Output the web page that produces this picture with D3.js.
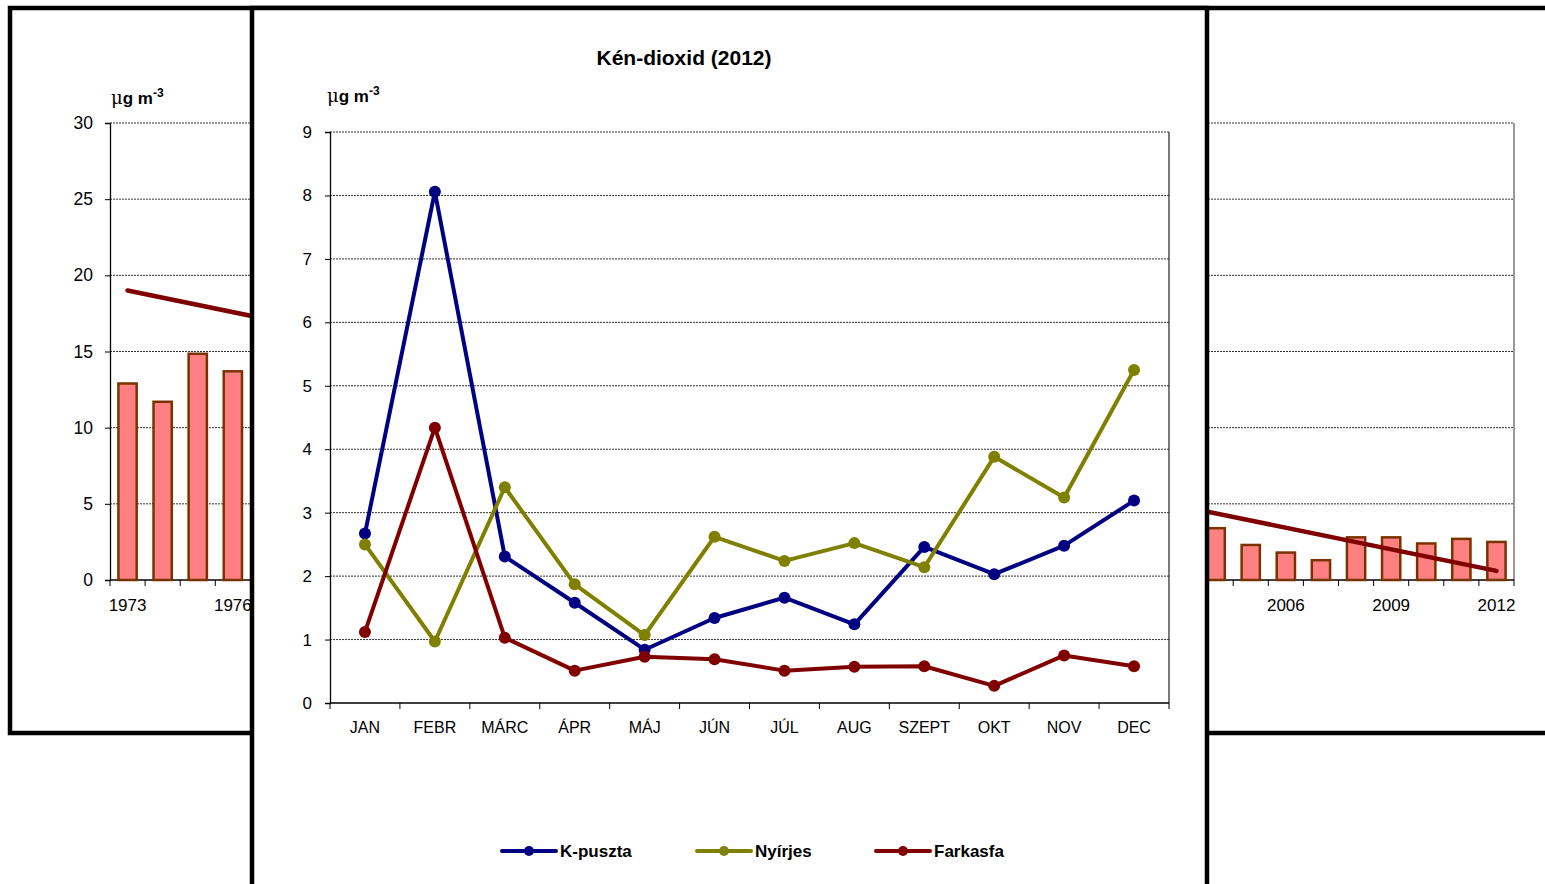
<!DOCTYPE html>
<html>
<head>
<meta charset="utf-8">
<script src="https://cdn.jsdelivr.net/npm/d3@7"></script>
<style>
  html, body { margin: 0; padding: 0; background: #fff; }
  svg { display: block; font-family: "Liberation Sans", Arial, sans-serif; }
</style>
</head>
<body>
<svg id="chart" width="1545" height="884"></svg>
<script>
// ---------- Data: background long-term chart (annual means) ----------
const years = d3.range(1973, 2013);             // categories 1973..2012
const yearLabels = [1973,1976,1979,1982,1985,1988,1991,1994,1997,2000,2003,2006,2009,2012];
// only years visible in the picture; others are hidden under the front panel
const annualYears  = [1973, 1974, 1975, 1976, 2004, 2005, 2006, 2007, 2008, 2009, 2010, 2011, 2012];
const annualValues = [12.9, 11.7, 14.85, 13.7, 3.4, 2.3, 1.8, 1.3, 2.8, 2.8, 2.4, 2.7, 2.5];
const trendYears  = [1973, 2012];
const trendValues = [19.0, 0.6];
const backYTicks = [0, 5, 10, 15, 20, 25, 30];

// ---------- Data: front chart (monthly 2012) ----------
const months = ["JAN","FEBR","MÁRC","ÁPR","MÁJ","JÚN","JÚL","AUG","SZEPT","OKT","NOV","DEC"];
const kpuszta  = [2.67, 8.06, 2.31, 1.58, 0.84, 1.34, 1.66, 1.24, 2.46, 2.03, 2.48, 3.19];
const nyirjes  = [2.50, 0.97, 3.40, 1.87, 1.07, 2.62, 2.24, 2.52, 2.14, 3.88, 3.24, 5.25];
const farkasfa = [1.12, 4.34, 1.03, 0.51, 0.73, 0.69, 0.51, 0.57, 0.58, 0.27, 0.75, 0.58];
const seriesNames = ["K-puszta", "Nyírjes", "Farkasfa"];
const seriesColors = ["#000080", "#808000", "#800000"];
const frontYTicks = [0,1,2,3,4,5,6,7,8,9];
const title = "Kén-dioxid (2012)";

const svg = d3.select("#chart");
svg.append("rect").attr("width",1545).attr("height",884).attr("fill","#fff");

function unitLabel(g, x, y) {
  const t = g.append("text").attr("x", x).attr("y", y)
    .attr("font-size", 17).attr("font-weight", "bold").attr("fill", "#000");
  t.append("tspan").attr("font-weight","normal").attr("font-family","'DejaVu Serif', serif").attr("font-size",18).text("μ");
  t.append("tspan").text("g m");
  t.append("tspan").attr("dy", -7).attr("font-size", 12).text("-3");
}

// ================= BACKGROUND CHART =================
const back = svg.append("g");
back.append("rect").attr("x", 10).attr("y", 8).attr("width", 1600).attr("height", 725)
  .attr("fill", "#fff").attr("stroke", "#000").attr("stroke-width", 4.5);

const bx = d3.scaleBand().domain(years).range([110, 1514]).paddingInner(0.48).paddingOuter(0.24);
const by = d3.scaleLinear().domain([0, 30]).range([580, 123]);

back.append("g").selectAll("line").data(backYTicks.filter(d => d > 0)).join("line")
  .attr("x1", 110).attr("x2", 1514).attr("y1", d => by(d)).attr("y2", d => by(d))
  .attr("stroke", "#333").attr("stroke-width", 1).attr("stroke-dasharray", "2,1");
back.append("line").attr("x1",1514).attr("x2",1514).attr("y1",by(30)).attr("y2",by(0))
  .attr("stroke","#555").attr("stroke-width",1.2);

const byAxis = back.append("g").attr("transform", "translate(110,0)")
  .call(d3.axisLeft(by).tickValues(backYTicks).tickSize(5).tickPadding(12));
byAxis.select(".domain").attr("stroke","#000").attr("stroke-width",1.3);
byAxis.selectAll(".tick line").attr("stroke","#000");
byAxis.selectAll("text").attr("font-size", 17.5).attr("fill","#000").attr("font-family","'Liberation Sans', Arial, sans-serif");

back.append("line").attr("x1",110).attr("x2",1514).attr("y1",by(0)).attr("y2",by(0))
  .attr("stroke","#000").attr("stroke-width",1.3);
const bStep = bx.step();
back.append("g").selectAll("line").data(years.concat(["end"])).join("line")
  .attr("x1", d => d === "end" ? 1514 : bx(d) + bx.bandwidth()/2 - bStep/2)
  .attr("x2", d => d === "end" ? 1514 : bx(d) + bx.bandwidth()/2 - bStep/2)
  .attr("y1", by(0)).attr("y2", by(0) + 6).attr("stroke","#000").attr("stroke-width",1);
back.append("g").selectAll("text").data(yearLabels).join("text")
  .attr("x", d => bx(d) + bx.bandwidth()/2).attr("y", 611)
  .attr("text-anchor","middle").attr("font-size",17).attr("fill","#000").text(d => d);

back.append("g").selectAll("rect").data(annualYears.map((y,i) => ({y, v: annualValues[i]}))).join("rect")
  .attr("x", d => bx(d.y)).attr("width", bx.bandwidth())
  .attr("y", d => by(d.v)).attr("height", d => by(0) - by(d.v))
  .attr("fill", "#FF8080").attr("stroke", "#7A3300").attr("stroke-width", 2.5);

back.append("path")
  .datum(trendYears.map((y,i) => ({y, v: trendValues[i]})))
  .attr("d", d3.line().x(d => bx(d.y) + bx.bandwidth()/2).y(d => by(d.v)))
  .attr("fill","none").attr("stroke","#800000").attr("stroke-width",4.5).attr("stroke-linecap","round");

unitLabel(back, 111, 104);

// ================= FRONT CHART =================
const front = svg.append("g");
front.append("rect").attr("x", 252).attr("y", 8).attr("width", 955).attr("height", 920)
  .attr("fill", "#fff").attr("stroke", "#000").attr("stroke-width", 4.5);

front.append("text").attr("x", 684).attr("y", 65).attr("text-anchor","middle")
  .attr("font-size", 21).attr("font-weight","bold").attr("fill","#000").text(title);
unitLabel(front, 327, 102);

const fx = d3.scaleBand().domain(months).range([330, 1169]);
const fy = d3.scaleLinear().domain([0, 9]).range([703, 132]);
const cx = m => fx(m) + fx.bandwidth()/2;

front.append("g").selectAll("line").data(frontYTicks.filter(d => d > 0)).join("line")
  .attr("x1", 330).attr("x2", 1169).attr("y1", d => fy(d)).attr("y2", d => fy(d))
  .attr("stroke", "#333").attr("stroke-width", 1).attr("stroke-dasharray", "2,1");
front.append("line").attr("x1",1169).attr("x2",1169).attr("y1",fy(9)).attr("y2",fy(0))
  .attr("stroke","#222").attr("stroke-width",1.2);

const fyAxis = front.append("g").attr("transform","translate(330,0)")
  .call(d3.axisLeft(fy).tickValues(frontYTicks).tickSize(5).tickPadding(13));
fyAxis.select(".domain").attr("stroke","#000").attr("stroke-width",1.3);
fyAxis.selectAll(".tick line").attr("stroke","#000");
fyAxis.selectAll("text").attr("font-size",17).attr("fill","#000").attr("font-family","'Liberation Sans', Arial, sans-serif");

front.append("line").attr("x1",330).attr("x2",1169).attr("y1",fy(0)).attr("y2",fy(0))
  .attr("stroke","#000").attr("stroke-width",1.3);
front.append("g").selectAll("line").data(months.concat(["end"])).join("line")
  .attr("x1", d => d === "end" ? 1169 : fx(d)).attr("x2", d => d === "end" ? 1169 : fx(d))
  .attr("y1", fy(0)).attr("y2", fy(0) + 6).attr("stroke","#000").attr("stroke-width",1);
front.append("g").selectAll("text").data(months).join("text")
  .attr("x", d => cx(d)).attr("y", 733).attr("text-anchor","middle")
  .attr("font-size",16).attr("fill","#000").text(d => d);

const allSeries = [kpuszta, nyirjes, farkasfa];
const line = d3.line().x((d,i) => cx(months[i])).y(d => fy(d));
allSeries.forEach((s, k) => {
  const g = front.append("g");
  g.append("path").datum(s).attr("d", line).attr("fill","none")
    .attr("stroke", seriesColors[k]).attr("stroke-width", 4).attr("stroke-linejoin","round");
  g.selectAll("circle").data(s).join("circle")
    .attr("cx", (d,i) => cx(months[i])).attr("cy", d => fy(d)).attr("r", 6)
    .attr("fill", seriesColors[k]);
});

const legendX = [502, 697, 876];
seriesNames.forEach((name, k) => {
  const g = front.append("g").attr("transform", `translate(${legendX[k]},851)`);
  g.append("line").attr("x1",0).attr("x2",54).attr("y1",0).attr("y2",0)
    .attr("stroke",seriesColors[k]).attr("stroke-width",4).attr("stroke-linecap","round");
  g.append("circle").attr("cx",27).attr("cy",0).attr("r",5).attr("fill",seriesColors[k]);
  g.append("text").attr("x",58).attr("y",6).attr("font-size",17).attr("font-weight","bold")
    .attr("fill","#000").text(name);
});
</script>
</body>
</html>
